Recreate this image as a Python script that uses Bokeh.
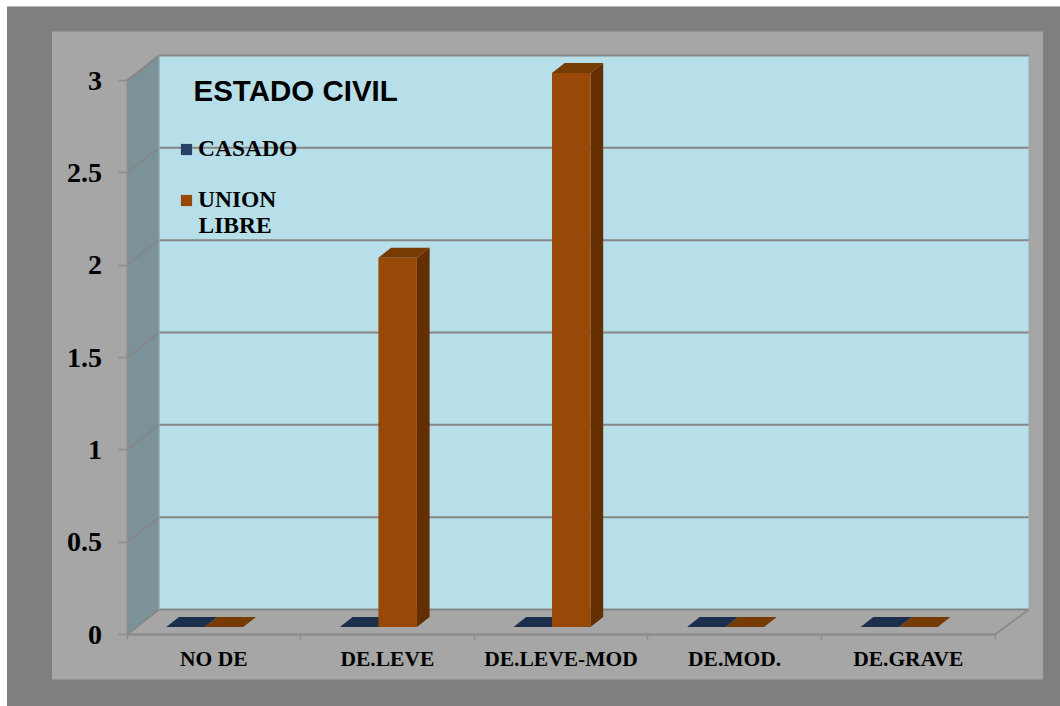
from bokeh.embed import file_html
from bokeh.resources import INLINE
from bokeh.plotting import figure
from bokeh.models import FixedTicker, Label, Legend, LegendItem, Range1d

categories = ["NO DE", "DE.LEVE", "DE.LEVE-MOD", "DE.MOD.", "DE.GRAVE"]
casado = [0, 0, 0, 0, 0]
union_libre = [0, 2, 3, 0, 0]
y_ticks = [0, 0.5, 1, 1.5, 2, 2.5, 3]
y_labels = ["0", "0.5", "1", "1.5", "2", "2.5", "3"]

W, H = 1060, 706
X0_PX, X5_PX = 126.5, 994.5      # front axis ends, page pixels
Y0_PX, Y3_PX = 634, 80
sx = (X5_PX - X0_PX) / 5
sy = (Y0_PX - Y3_PX) / 3
def X(px): return (px - X0_PX) / sx
def Y(py): return (Y0_PX - py) / sy

p = figure(width=W, height=H, output_backend="svg", toolbar_location=None,
           x_range=Range1d(X(0), X(W)), y_range=Range1d(Y(H), Y(0)),
           min_border=0, outline_line_color=None, background_fill_color="#ffffff",
           border_fill_color="#ffffff")
p.grid.visible = False

# outer frame and chart area
p.quad(left=[X(6.5)], right=[X(W)], top=[Y(6)], bottom=[Y(H)], fill_color="#7f7f7f", line_color=None)
p.quad(left=[X(51.5)], right=[X(1042.5)], top=[Y(31)], bottom=[Y(679)], fill_color="#a6a6a6", line_color=None)

# 3D box
wall_dx, wall_dy = 32 / sx, 25 / sy
ymax = y_ticks[-1]
n = len(categories)
p.quad(left=[wall_dx], right=[n + 34 / sx], top=[ymax + wall_dy], bottom=[wall_dy],
       fill_color="#b7dfe9", line_color=None)
p.patch([0, wall_dx, wall_dx, 0], [0, wall_dy, ymax + wall_dy, ymax], fill_color="#7a9298", line_color=None)
p.patch([0, wall_dx, n + 34 / sx, n], [0, wall_dy, wall_dy, 0], fill_color="#a6a6a6", line_color=None)
p.multi_line([[0, wall_dx, n + 34 / sx] for t in y_ticks],
             [[t, t + wall_dy, t + wall_dy] for t in y_ticks], line_color="#868686", line_width=2)
p.line([wall_dx, wall_dx], [wall_dy, ymax + wall_dy], line_color="#8fa6ac", line_width=1.5)
p.line([n + 34 / sx] * 2, [wall_dy, ymax + wall_dy], line_color="#9aa9ad", line_width=1)
p.line([n, n + 34 / sx], [0, wall_dy], line_color="#8c8c8c", line_width=2)

# bars
bar_w = 38.5 / sx
shift_x, shift_y = -9 / sx, 7.5 / sy
dep_x, dep_y = 12.7 / sx, 10 / sy

def draw(values, offset, front, side, top):
    ls = [i + 0.5 + shift_x + offset for i in range(len(values))]
    rs = [l + bar_w for l in ls]
    b = shift_y
    ts = [v + b for v in values]
    p.patches([[l, l + dep_x, r + dep_x, r] for l, r in zip(ls, rs)],
              [[t, t + dep_y, t + dep_y, t] for t in ts], fill_color=top, line_color=None)
    p.patches([[r, r + dep_x, r + dep_x, r] for r in rs],
              [[b, b + dep_y, t + dep_y, t] for t in ts], fill_color=side, line_color=None)
    return p.quad(left=ls, right=rs, bottom=[b] * len(ls), top=ts, fill_color=front, line_color=None)

r_cas = draw(casado, -bar_w, "#264264", "#16263c", "#1b2f4d")
r_uni = draw(union_libre, 0, "#984807", "#632f00", "#763a03")

# axes
ya = p.yaxis[0]
ya.fixed_location = 0
ya.bounds = (0, ymax)
ya.ticker = FixedTicker(ticks=y_ticks)
ya.major_label_overrides = dict(zip(y_ticks, y_labels))
ya.major_label_text_font = "Liberation Serif"
ya.major_label_text_font_style = "bold"
ya.major_label_text_font_size = "28px"
ya.major_label_text_color = "#000000"
ya.major_label_standoff = 16
ya.axis_line_color = "#8c8c8c"
ya.axis_line_width = 2
ya.major_tick_line_color = "#8c8c8c"
ya.major_tick_line_width = 1.5
ya.major_tick_in = 0
ya.major_tick_out = 9
ya.minor_tick_line_color = None

xa = p.xaxis[0]
xa.fixed_location = 0
xa.bounds = (0, n)
centers = [i + 0.5 for i in range(n)]
xa.ticker = FixedTicker(ticks=centers, minor_ticks=list(range(n + 1)))
xa.major_label_overrides = dict(zip(centers, categories))
xa.major_label_text_font = "Liberation Serif"
xa.major_label_text_font_style = "bold"
xa.major_label_text_font_size = "21.5px"
xa.major_label_text_color = "#000000"
xa.major_label_standoff = 6
xa.axis_line_color = "#8c8c8c"
xa.axis_line_width = 2.5
xa.major_tick_line_color = None
xa.minor_tick_line_color = "#8c8c8c"
xa.minor_tick_line_width = 1.5
xa.minor_tick_in = 0
xa.minor_tick_out = 5

# legend
p.add_layout(Label(x=X(193), y=Y(106), text="ESTADO CIVIL", text_font="Liberation Sans",
                   text_font_style="bold", text_font_size="29.5px", text_color="#000000"))
legend = Legend(items=[LegendItem(label="CASADO", renderers=[r_cas]),
                       LegendItem(label="UNION", renderers=[r_uni])],
                location=(179, 493), background_fill_alpha=0, border_line_color=None,
                glyph_width=14, glyph_height=14, spacing=24, padding=0, margin=0, label_standoff=5,
                label_text_font="Liberation Serif", label_text_font_style="bold",
                label_text_font_size="23.5px", label_text_color="#000000")
p.add_layout(legend)
p.add_layout(Label(x=X(198), y=Y(237), text="LIBRE", text_font="Liberation Serif",
                   text_font_style="bold", text_font_size="23.5px", text_color="#000000"))

open("out.html", "w").write(file_html(p, INLINE))
